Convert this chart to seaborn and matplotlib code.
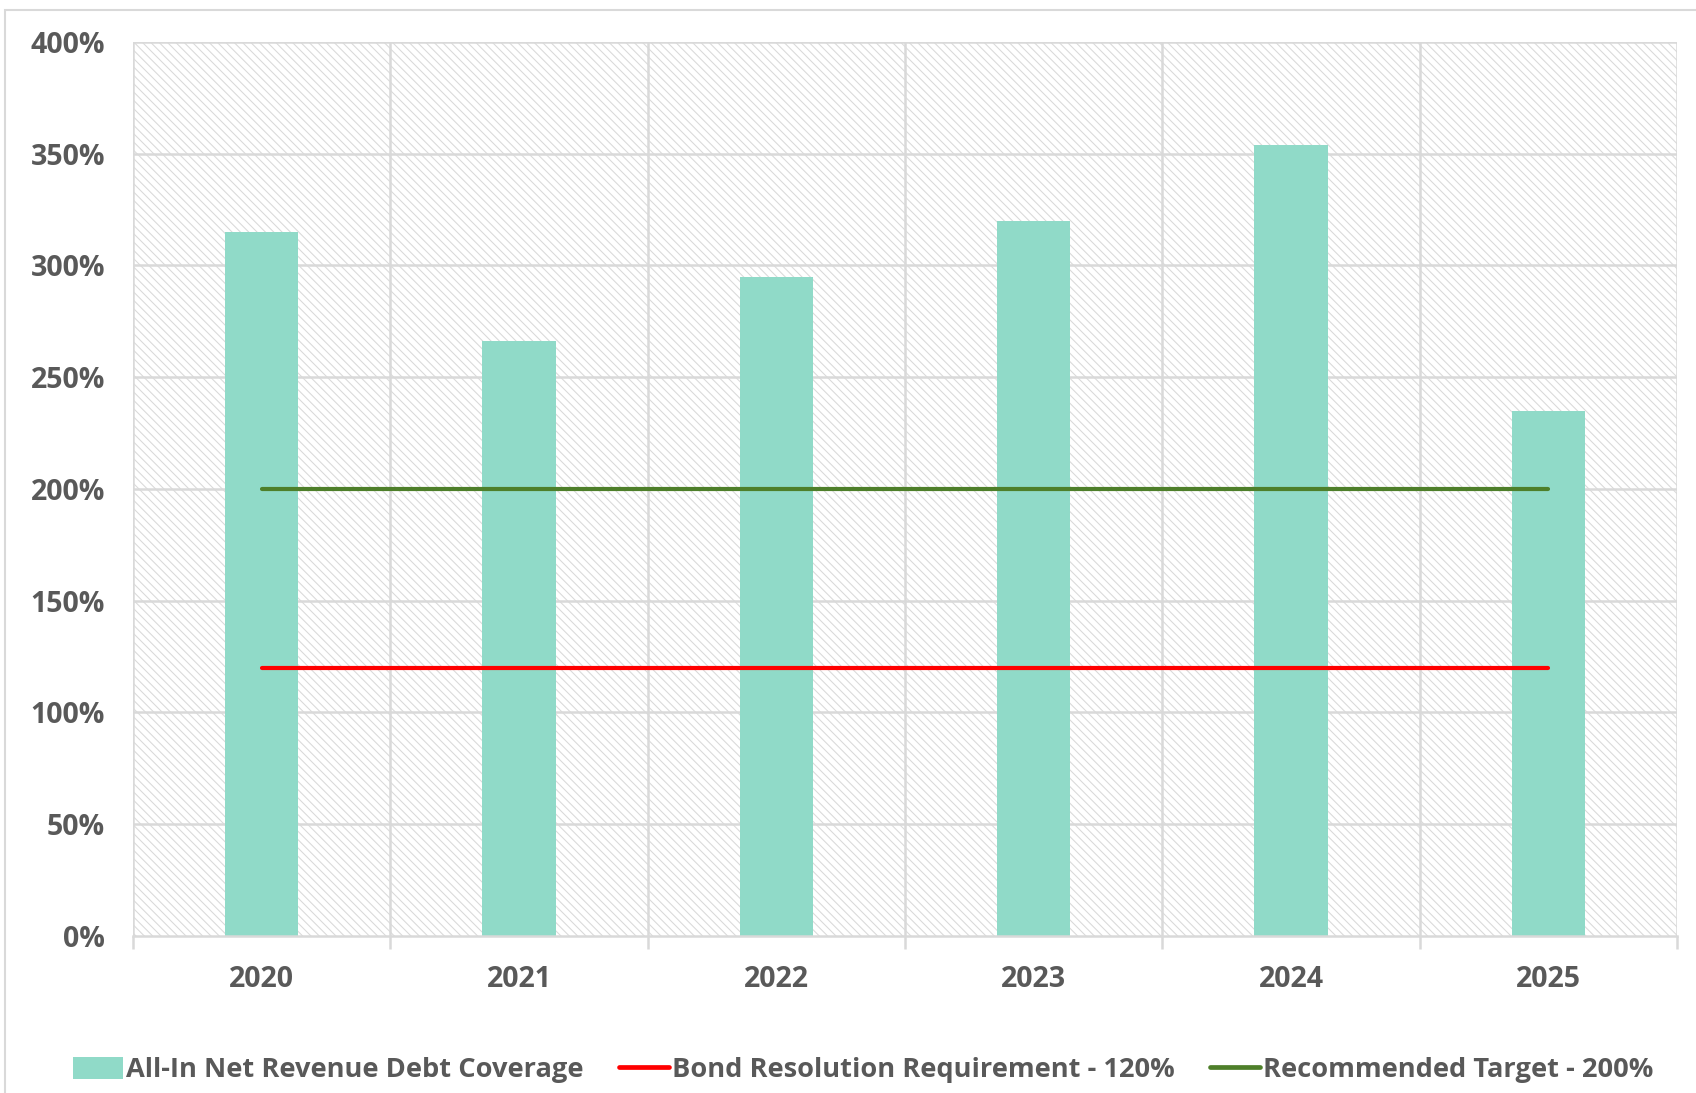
import matplotlib
matplotlib.use("Agg")
import matplotlib.pyplot as plt
import seaborn as sns
import pandas as pd
import numpy as np
from matplotlib.patches import Rectangle, Patch
from matplotlib.lines import Line2D
from matplotlib.ticker import FuncFormatter, MultipleLocator, FixedLocator

years = ["2020", "2021", "2022", "2023", "2024", "2025"]
coverage = [315, 266, 295, 320, 354, 235]
bond_requirement = [120, 120, 120, 120, 120, 120]
recommended_target = [200, 200, 200, 200, 200, 200]
legend_labels = ["All-In Net Revenue Debt Coverage",
                 "Bond Resolution Requirement - 120%",
                 "Recommended Target - 200%"]

sns.set_theme(style="white")
plt.rcParams["font.family"] = ["Open Sans", "DejaVu Sans"]
plt.rcParams["hatch.color"] = "#d9d9d9"
plt.rcParams["hatch.linewidth"] = 0.75

TEXT = "#595959"
GRID = "#d9d9d9"
TEAL = "#90dac8"
RED = "#ff0000"
GREEN = "#4e7f2a"

fig = plt.figure(figsize=(16.96, 10.93), dpi=100)
ax = fig.add_axes([0.0784, 0.1437, 0.9104, 0.8179])

df = pd.DataFrame({"year": years, "coverage": coverage})
ax.patch.set_facecolor("white")
ax.patch.set_hatch("\\\\\\\\")
ax.patch.set_edgecolor("#d9d9d9")
ax.patch.set_linewidth(0)

sns.barplot(data=df, x="year", y="coverage", color=TEAL, width=0.286,
            saturation=1, ax=ax, zorder=3)
for p in ax.patches:
    p.set_edgecolor("none")

x = np.arange(len(years))
sns.lineplot(x=x, y=bond_requirement, color=RED, linewidth=3.0, ax=ax, zorder=4)
sns.lineplot(x=x, y=recommended_target, color=GREEN, linewidth=3.0, ax=ax, zorder=4)

ax.set_xlim(-0.5, 5.5)
ax.set_ylim(0, 400)
ax.set_xticks(x)
ax.set_xticklabels(years)
ax.yaxis.set_major_locator(MultipleLocator(50))
ax.yaxis.set_major_formatter(FuncFormatter(lambda v, p: f"{int(v)}%"))
ax.set_xlabel("")
ax.set_ylabel("")

# grid
for yv in range(50, 401, 50):
    ax.axhline(yv, color=GRID, linewidth=1.8, zorder=1)
for xv in np.arange(-0.5, 6.0, 1.0):
    ax.axvline(xv, color=GRID, linewidth=1.8, zorder=1)

for s in ["top", "right", "left"]:
    ax.spines[s].set_visible(False)
ax.spines["bottom"].set_color(GRID)
ax.spines["bottom"].set_linewidth(1.8)
ax.spines["bottom"].set_zorder(5)

ax.xaxis.set_minor_locator(FixedLocator(np.arange(-0.5, 6.0, 1.0)))
ax.tick_params(axis="x", which="minor", length=9, width=1.8, color=GRID, bottom=True)
ax.tick_params(axis="x", which="major", length=0, pad=21, labelsize=20.5, labelcolor=TEXT)
ax.tick_params(axis="y", length=0, pad=20, labelsize=20.5, labelcolor=TEXT)
for lab in ax.get_xticklabels() + ax.get_yticklabels():
    lab.set_fontweight("bold")

handles = [Patch(facecolor=TEAL, edgecolor="none"),
           Line2D([0], [0], color=RED, linewidth=3.4),
           Line2D([0], [0], color=GREEN, linewidth=3.4)]
leg = fig.legend(handles, legend_labels, loc="center", bbox_to_anchor=(0.509, 0.021),
                 ncol=3, frameon=False, fontsize=19.6, handlelength=1.85,
                 handletextpad=0.1, columnspacing=1.3, handleheight=0.9)
for t in leg.get_texts():
    t.set_color(TEXT)
    t.set_fontweight("bold")

fig.patches.append(Rectangle((5 / 1696, -0.05), 1.2, 1 - 10 / 1093 + 0.05,
                             transform=fig.transFigure, fill=False,
                             edgecolor=GRID, linewidth=1.5, zorder=0))

fig.savefig("out.png", dpi=100)
